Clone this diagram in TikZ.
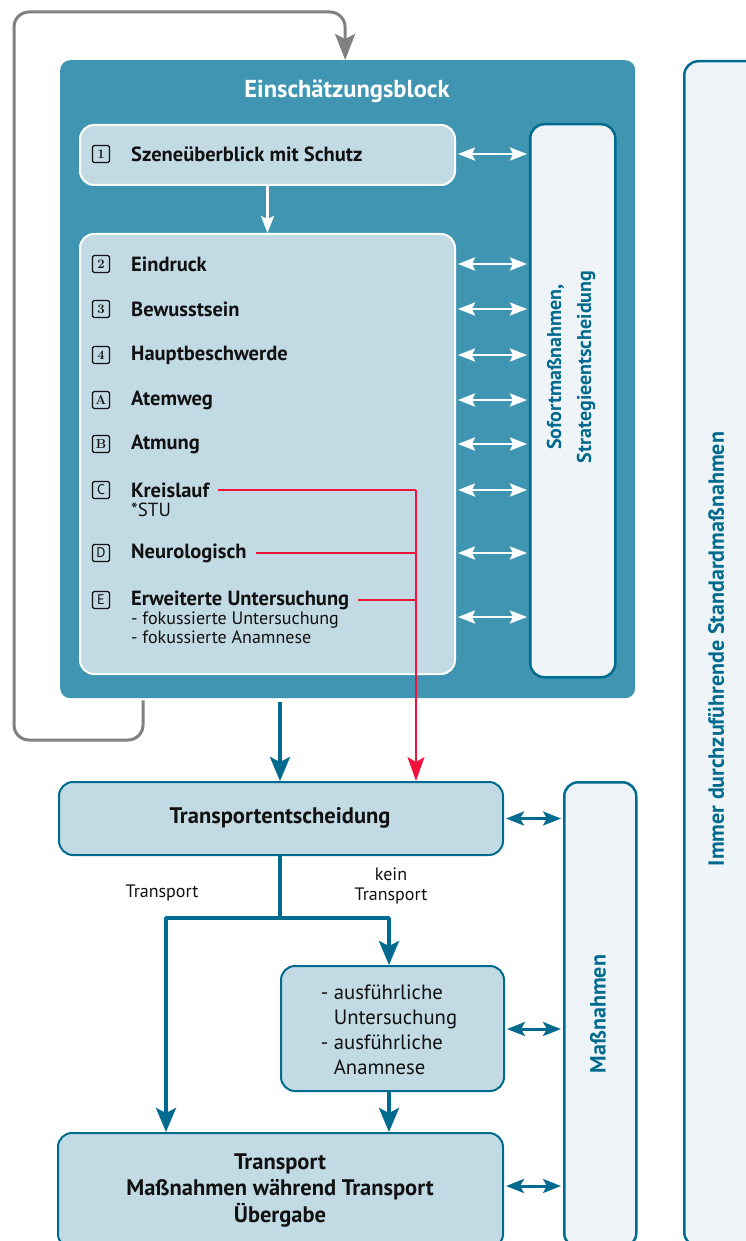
\documentclass[tikz,border=0pt]{standalone}
\usepackage{fontspec}
\newfontfamily\pts{PT Sans}
\usetikzlibrary{arrows.meta,calc}
\definecolor{blk}{HTML}{4096B2}
\definecolor{lightb}{HTML}{C2DAE3}
\definecolor{pale}{HTML}{EEF4F7}
\definecolor{tl}{HTML}{006B8E}
\definecolor{rd}{HTML}{F0143C}
\definecolor{gr}{HTML}{808080}
\definecolor{txt}{HTML}{111111}
\newcommand\fsz[2]{\fontsize{#1}{#2}\selectfont}
\tikzset{
  lbox/.style={draw=white, line width=2pt, fill=lightb, rounded corners=14pt, anchor=north west, inner sep=0pt},
  tbox/.style={draw=tl, line width=2pt, fill=lightb, rounded corners=14pt, anchor=north west, inner sep=0pt},
  pbox/.style={draw=tl, line width=2.5pt, fill=pale, rounded corners=14pt, anchor=north west, inner sep=0pt},
  numbox/.style={draw=txt, line width=1.2pt, rounded corners=1.5pt, minimum width=17pt, minimum height=17pt, inner sep=0pt, text=txt, font=\rmfamily\bfseries\fsz{13}{13}},
  numboxs/.style={numbox, font=\pts\fsz{14}{14}},
  item/.style={anchor=west, inner sep=0pt, text=txt, font=\pts\bfseries\fsz{20.5}{24}},
  sub/.style={anchor=north west, inner sep=0pt, text=txt, align=left, font=\pts\fsz{18}{19}},
  lab/.style={inner sep=0pt, text=txt, align=center, font=\pts\fsz{18}{20.5}},
  vlab/.style={rotate=90, inner sep=0pt, text=tl, align=center, font=\pts\bfseries\fsz{20}{30}},
  wdbl/.style={white, line width=2.5pt, {Stealth[length=17pt,width=13pt,inset=3pt]}-{Stealth[length=17pt,width=13pt,inset=3pt]}, shorten <=2pt, shorten >=2pt},
  tdbl/.style={tl, line width=3pt, {Stealth[length=18pt,width=14pt,inset=4pt]}-{Stealth[length=18pt,width=14pt,inset=4pt]}, shorten <=2pt, shorten >=2pt},
  tarr/.style={tl, line width=3.5pt, -{Stealth[length=24pt,width=20pt,inset=5pt]}},
  tline/.style={tl, line width=3.5pt},
  redl/.style={rd, line width=1.8pt},
}
\begin{document}
\begin{tikzpicture}[x=1pt,y=-1pt,line join=round]
\useasboundingbox (0,0) rectangle (745,1241);

% right tall box
\node[pbox, minimum width=82pt, minimum height=1185pt] (std) at (683,60) {};
\node[vlab, font=\pts\bfseries\fsz{22}{24}] (stdt) at (716,649) {Immer durchzuführende Standardmaßnahmen};

% outer block
\node[fill=blk, rounded corners=10pt, anchor=north west, minimum width=575pt, minimum height=638pt, inner sep=0pt] (blk) at (60,60) {};
\node[inner sep=0pt, text=white, font=\pts\bfseries\fsz{24.5}{28}] (title) at (347,91) {Einschätzungsblock};

\node[lbox, minimum width=375pt, minimum height=60pt] (b1) at (79,124) {};
\node[lbox, minimum width=375pt, minimum height=440pt] (b2) at (79,233) {};
\node[pbox, minimum width=85pt, minimum height=553pt] (sof) at (529,123) {};
\node[vlab] (soft) at (571,367) {Sofortmaßnahmen,\\Strategieentscheidung};

% items
\node[numbox] (n1) at (101,154) {1};
\node[item] (t1) at (131,154) {Szeneüberblick mit Schutz};
\node[numbox] (n2) at (101,264) {2};
\node[item] (t2) at (131,264) {Eindruck};
\node[numbox] (n3) at (101,309) {3};
\node[item] (t3) at (131,309) {Bewusstsein};
\node[numbox] (n4) at (101,355) {4};
\node[item] (t4) at (131,355) {Hauptbeschwerde};
\node[numbox] (nA) at (101,400) {A};
\node[item] (tA) at (131,400) {Atemweg};
\node[numbox] (nB) at (101,444) {B};
\node[item] (tB) at (131,444) {Atmung};
\node[numboxs] (nC) at (101,490) {C};
\node[item] (tC) at (131,490) {Kreislauf};
\node[sub, font=\pts\fsz{19}{20}] (sC) at (131,503) {*STU};
\node[numboxs] (nD) at (101,553) {D};
\node[item] (tD) at (131,553) {Neurologisch};
\node[numboxs] (nE) at (101,600) {E};
\node[item] (tE) at (131,600) {Erweiterte Untersuchung};
\node[sub] (sE) at (131,612) {- fokussierte Untersuchung\\- fokussierte Anamnese};

% white arrows
\draw[white, line width=2.5pt, -{Stealth[length=17pt,width=13pt,inset=3pt]}] (b1.south) -- (b2.north);
\draw[wdbl] (b1.east |- n1) -- (sof.west |- n1);
\foreach \n in {n2,n3,n4,nA,nB,nC,nD}{
  \draw[wdbl] (b2.east |- \n) -- (sof.west |- \n);
}
\coordinate (wx) at (0,617);
\draw[wdbl] (b2.east |- wx) -- (sof.west |- wx);

% lower part
\node[tbox, minimum width=444pt, minimum height=73pt] (te) at (58,781) {};
\node[inner sep=0pt, text=txt, font=\pts\bfseries\fsz{22.5}{26}] (tet) at (280,818) {Transportentscheidung};
\node[pbox, minimum width=72pt, minimum height=465pt] (mas) at (563,781) {};
\node[vlab, font=\pts\bfseries\fsz{22}{24}] (mast) at (598,1014) {Maßnahmen};
\node[tbox, minimum width=223pt, minimum height=125pt] (mid) at (280,965) {};
\node[inner sep=0pt, text=txt, align=left, font=\pts\fsz{20.7}{25}] (midt) at (389,1030) {- ausführliche\\\hphantom{- }Untersuchung\\- ausführliche\\\hphantom{- }Anamnese};
\node[tbox, minimum width=445pt, minimum height=115pt] (bot) at (57,1132) {};
\node[inner sep=0pt, text=txt, align=center, font=\pts\bfseries\fsz{22.5}{26.5}] (bott) at (280,1190) {Transport\\Maßnahmen während Transport\\Übergabe};

\node[lab] (ltr) at (162,893) {Transport};
\node[lab] (lktr) at (391,886) {kein\\Transport};

% red connectors
\coordinate (rx) at (416,0);
\draw[redl] ([xshift=9pt]tC.east) -- (tC.east -| rx);
\draw[redl] ([xshift=9pt]tD.east) -- (tD.east -| rx);
\draw[redl] ([xshift=9pt]tE.east) -- (tE.east -| rx);
\draw[redl, -{Stealth[length=24pt,width=17pt,inset=5pt]}] (tC.east -| rx) -- (te.north -| rx);

% teal connectors
\draw[tarr] ($(blk.south -| tet)+(0,4)$) -- (te.north -| tet);
\coordinate (split) at (280,918);
\coordinate (lb) at (166,918);
\draw[tline] (te.south -| tet) -- (split);
\draw[tarr] (split) -- (split -| midt) -- (mid.north -| midt);
\draw[tarr] (split) -- (lb) -- (lb |- bot.north);
\draw[tarr] (mid.south -| midt) -- (bot.north -| midt);
\draw[tdbl] (te.east) -- (te.east -| mas.west);
\coordinate (m1) at (0,1029);
\draw[tdbl] (mid.east |- m1) -- (mas.west |- m1);
\coordinate (m2) at (0,1186);
\draw[tdbl] (bot.east |- m2) -- (mas.west |- m2);

% gray loop
\coordinate (g1) at (143,0);
\draw[gr, line width=3pt, rounded corners=15pt, -{Stealth[length=26pt,width=20pt,inset=5pt]}]
  ($(blk.south -| g1)+(0,2)$) -- (143,740) -- (14,740) -- (14,12) -- (345,12) -- ($(blk.north)+(-2.5,0)$);
\end{tikzpicture}
\end{document}
